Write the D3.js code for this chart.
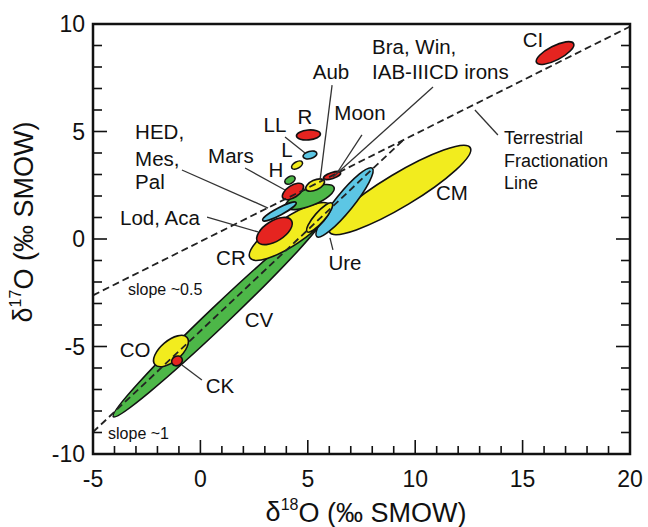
<!DOCTYPE html>
<html><head><meta charset="utf-8">
<script src="https://cdn.jsdelivr.net/npm/d3@7"></script>
<style>
html,body{margin:0;padding:0;background:#fff;}
svg{display:block;font-family:"Liberation Sans",Arial,Helvetica,sans-serif;}
</style></head>
<body>
<svg id="chart" width="648" height="527"></svg>
<script>
// ---- data (δ18O, δ17O in ‰) ----
const xDomain = [-5, 20];
const yDomain = [-10, 10];
const xTickLabels = [-5, 0, 5, 10, 15, 20];
const yTickLabels = [-10, -5, 0, 5, 10];

// ellipses: name, center x, center y, semi-major, semi-minor, angle (deg), fill
const ellipseNames  = ["CM","CV","Ure","CR","CRn","Lod","Grn","HED","Mars","H","L","LL","R","Aub","Moon","CO","CK","CI"];
const ellipseCx     = [9.29, 0.87, 6.71, 4.17, 5.55, 3.45, 5.10, 3.68, 4.31, 4.17, 4.50, 5.10, 5.03, 5.34, 6.13, -1.37, -1.09, 16.51];
const ellipseCy     = [2.28, -3.58, 1.70, 0.35, 1.00, 0.37, 1.95, 1.28, 2.21, 2.74, 3.44, 3.91, 4.84, 2.51, 2.95, -5.21, -5.67, 8.65];
const ellipseA      = [3.82, 6.80, 2.05, 2.23, 0.88, 0.93, 1.21, 0.88, 0.56, 0.26, 0.28, 0.33, 0.56, 0.47, 0.42, 0.98, 0.26, 0.97];
const ellipseB      = [0.77, 0.47, 0.42, 0.65, 0.24, 0.47, 0.40, 0.17, 0.28, 0.16, 0.15, 0.17, 0.23, 0.23, 0.14, 0.48, 0.22, 0.33];
const ellipseAngle  = [31, 43.6, 51, 33.5, 49, 32, 22, 28, 33, 30, 30, 15, 5, 25, 18, 40, 30, 27];
const ellipseColor  = ["yellow","green","blue","yellow","yellow","red","green","blue","red","green","yellow","blue","red","yellow","red","yellow","red","red"];

// reference lines
const tflLine  = [[-5, -2.62], [20, 9.88]];   // terrestrial fractionation, slope ~0.5
const ccamLine = [[-5, -8.98], [9.45, 4.61]]; // slope ~1

// labels: text, x, y, anchor, size class
const labelTexts  = ["CI","Bra, Win,","IAB-IIICD irons","Aub","R","Moon","LL","L","H","HED,","Mes,","Pal","Mars","Lod, Aca","CR","Ure","CM","CV","CO","CK","slope ~0.5","slope ~1","Terrestrial","Fractionation","Line"];
const labelX      = [15.48, 7.99, 7.99, 6.08, 4.87, 7.43, 3.47, 4.03, 3.52, -3.04, -3.04, -3.04, 1.42, -3.74, 1.42, 6.73, 11.71, 2.73, -3.04, 0.91, -3.37, -4.30, 14.13, 14.13, 14.13];
const labelY      = [9.26, 8.93, 7.77, 7.77, 5.67, 5.86, 5.30, 4.14, 3.21, 4.98, 3.72, 2.65, 3.86, 0.98, -0.88, -1.12, 2.14, -3.77, -5.16, -6.84, -2.33, -9.02, 4.74, 3.67, 2.65];
const labelAnchor = ["middle","start","start","middle","middle","middle","middle","middle","middle","start","start","start","middle","start","middle","middle","middle","middle","middle","middle","start","start","start","start","start"];
const labelSize   = ["l","l","l","l","l","l","l","l","l","l","l","l","l","l","l","l","l","l","l","l","s","s","m","m","m"];

// leader lines: [x1,y1,x2,y2]
const leaders = [
  [10.83, 7.07, 6.17, 2.88],  // Bra, Win
  [6.13, 7.16, 5.57, 2.74],   // Aub
  [7.52, 4.84, 6.36, 3.07],   // Moon
  [3.94, 4.74, 4.87, 4.00],   // LL
  [2.08, 3.30, 3.94, 2.28],   // Mars
  [-0.86, 3.21, 3.15, 1.44],  // HED
  [0.31, 1.02, 2.68, 0.33],   // Lod
  [6.03, 0.05, 6.17, -0.51],  // Ure
  [-0.86, -5.86, 0.07, -6.56],// CK
  [13.85, 4.84, 12.78, 6.00]  // TFL
];

// ---- drawing ----
const colors = {red:"#e52420", yellow:"#f2ec1e", green:"#4db748", blue:"#5cc6e4"};
const svg = d3.select("#chart");
const m = {left:93, right:18, top:24, bottom:73};
const W = 648, H = 527;
const x = d3.scaleLinear().domain(xDomain).range([m.left, W - m.right]);
const y = d3.scaleLinear().domain(yDomain).range([H - m.bottom, m.top]);
const kx = x(1) - x(0), ky = y(0) - y(1);

svg.append("defs").append("clipPath").attr("id","clip")
  .append("rect").attr("x", x(-5)).attr("y", y(10)).attr("width", x(20)-x(-5)).attr("height", y(-10)-y(10));

const plot = svg.append("g").attr("clip-path","url(#clip)");

// ellipses
const idx = d3.range(ellipseNames.length);
plot.selectAll("ellipse.e").data(idx).join("ellipse")
  .attr("class","e")
  .attr("transform", i => `translate(${x(ellipseCx[i])},${y(ellipseCy[i])}) rotate(${-ellipseAngle[i]})`)
  .attr("rx", i => ellipseA[i]*kx)
  .attr("ry", i => ellipseB[i]*ky)
  .attr("fill", i => colors[ellipseColor[i]])
  .attr("stroke", "#111")
  .attr("stroke-width", 1.6);

// dashed reference lines
const line = d3.line().x(d => x(d[0])).y(d => y(d[1]));
[tflLine, ccamLine].forEach(l => {
  plot.append("path").attr("d", line(l)).attr("fill","none")
    .attr("stroke","#222").attr("stroke-width",1.8).attr("stroke-dasharray","7,4");
});

// leaders
svg.selectAll("line.leader").data(leaders).join("line")
  .attr("class","leader")
  .attr("x1", d => x(d[0])).attr("y1", d => y(d[1]))
  .attr("x2", d => x(d[2])).attr("y2", d => y(d[3]))
  .attr("stroke","#333").attr("stroke-width",1.3);

// labels
const sizes = {l:20.5, m:18, s:16};
svg.selectAll("text.lab").data(d3.range(labelTexts.length)).join("text")
  .attr("class","lab")
  .attr("x", i => x(labelX[i])).attr("y", i => y(labelY[i]))
  .attr("dy","0.36em")
  .attr("text-anchor", i => labelAnchor[i])
  .attr("font-size", i => sizes[labelSize[i]])
  .attr("fill","#111")
  .text(i => labelTexts[i]);

// axes (ticks inward)
const minorX = d3.range(-5, 21, 1), minorY = d3.range(-10, 11, 1);
const gx = svg.append("g").attr("transform",`translate(0,${y(-10)})`);
gx.selectAll("line").data(minorX).join("line")
  .attr("x1", d => x(d)).attr("x2", d => x(d))
  .attr("y1", 0).attr("y2", d => xTickLabels.includes(d) ? -14 : -8)
  .attr("stroke","#111").attr("stroke-width",1.6);
gx.selectAll("text").data(xTickLabels).join("text")
  .attr("x", d => x(d)).attr("y", 25).attr("dy","0.36em")
  .attr("text-anchor","middle").attr("font-size",23).attr("fill","#111")
  .text(d => d);

const gy = svg.append("g").attr("transform",`translate(${x(-5)},0)`);
gy.selectAll("line").data(minorY).join("line")
  .attr("y1", d => y(d)).attr("y2", d => y(d))
  .attr("x1", 0).attr("x2", d => yTickLabels.includes(d) ? 14 : 9)
  .attr("stroke","#111").attr("stroke-width",1.6);
gy.selectAll("text").data(yTickLabels).join("text")
  .attr("x", -8).attr("y", d => y(d)).attr("dy","0.36em")
  .attr("text-anchor","end").attr("font-size",23).attr("fill","#111")
  .text(d => d);

const gr = svg.append("g").attr("transform",`translate(${x(20)},0)`);
gr.selectAll("line").data(minorY).join("line")
  .attr("y1", d => y(d)).attr("y2", d => y(d))
  .attr("x1", 0).attr("x2", d => yTickLabels.includes(d) ? -14 : -9)
  .attr("stroke","#111").attr("stroke-width",1.6);

// frame
svg.append("rect").attr("x", x(-5)).attr("y", y(10))
  .attr("width", x(20)-x(-5)).attr("height", y(-10)-y(10))
  .attr("fill","none").attr("stroke","#111").attr("stroke-width",2.5);

// axis titles
const xt = svg.append("text").attr("x", 366).attr("y", 511).attr("dy","0.36em")
  .attr("text-anchor","middle").attr("font-size",27).attr("fill","#111");
xt.append("tspan").text("δ");
xt.append("tspan").attr("font-size",16).attr("dy","-0.7em").text("18");
xt.append("tspan").attr("dy","0.45em").text("O (‰ SMOW)");

const yt = svg.append("text").attr("transform","translate(22,222) rotate(-90)")
  .attr("dy","0.36em").attr("text-anchor","middle").attr("font-size",27).attr("fill","#111");
yt.append("tspan").text("δ");
yt.append("tspan").attr("font-size",16).attr("dy","-0.7em").text("17");
yt.append("tspan").attr("dy","0.45em").text("O (‰ SMOW)");
</script>
</body></html>
